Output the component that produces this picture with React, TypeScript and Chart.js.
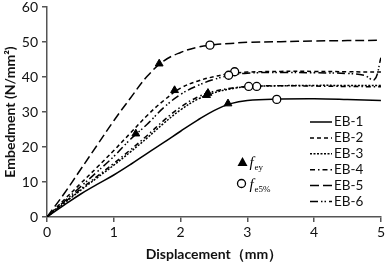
import React, { useEffect, useRef } from 'react';
import { Chart, registerables } from 'chart.js';

Chart.register(...registerables);

// ---- data ----
const disp = [0, 0.25, 0.5, 0.75, 1, 1.25, 1.5, 1.75, 2, 2.25, 2.5, 2.75, 3, 3.5, 4, 4.5, 5];
const eb1 = [0, 3.3, 6.5, 9.3, 12, 15, 18.2, 21.3, 24.5, 27.6, 30.4, 32.4, 33.3, 33.7, 33.8, 33.6, 33.3];
const eb2 = [0, 4.8, 9.5, 14.2, 19, 24, 29, 33.3, 36.8, 38.8, 40.1, 41, 41.4, 41.6, 41.6, 41.5, 41.4];
const eb3 = [0, 3.8, 7.6, 11.2, 14.8, 18.6, 22.6, 26.8, 30.6, 33.6, 35.5, 36.6, 37.2, 37.5, 37.6, 37.6, 37.6];
const eb4 = [0, 4, 7.9, 11.6, 15.3, 19.2, 23.3, 27.6, 31.4, 34.2, 35.9, 36.8, 37.3, 37.5, 37.4, 37.3, 37.2];
const eb5 = [0, 6.5, 13.5, 20.5, 27.5, 34, 40.2, 44.6, 47, 48.5, 49.2, 49.6, 49.9, 50.1, 50.3, 50.4, 50.5];
const disp6 = [0, 0.25, 0.5, 0.75, 1, 1.25, 1.5, 1.75, 2, 2.25, 2.5, 2.75, 3, 3.5, 4, 4.5, 4.75, 4.9, 5];
const eb6 = [0, 4.3, 8.6, 12.9, 17.3, 22.2, 26.5, 31.3, 35, 37.5, 39.3, 40.5, 41.1, 41.3, 41.2, 41, 40.5, 39.2, 45.5];

const seriesNames = ['EB-1', 'EB-2', 'EB-3', 'EB-4', 'EB-5', 'EB-6'];

// f_ey (triangles) and f_e5% (circles), one per specimen EB-1..EB-6
const feyX = [2.71, 1.91, 2.39, 2.41, 1.68, 1.33];
const feyY = [32.4, 36.2, 34.8, 35.4, 43.8, 23.8];
const fe5X = [3.44, 2.81, 3.14, 3.02, 2.44, 2.72];
const fe5Y = [33.6, 41.5, 37.3, 37.3, 49.1, 40.5];

const xMin = 0, xMax = 5, xStep = 1;
const yMin = 0, yMax = 60, yStep = 10;

const dashes: number[][] = [
  [],
  [4, 3],
  [2, 1.5],
  [5, 3, 1.5, 3],
  [9, 4],
  [8, 3, 1.5, 2, 1.5, 3],
];

const FONT = 'Lato, "Noto Sans", sans-serif';

const legendPlugin = {
  id: 'customLegend',
  afterDraw(chart: any) {
    const { ctx, chartArea } = chart;
    const L = chartArea.left;
    const T = chartArea.top;
    ctx.save();
    const lx = L + 263;
    const ly = T + 115;
    seriesNames.forEach((name, i) => {
      const y = ly + i * 15.9;
      ctx.setLineDash(dashes[i]);
      ctx.lineWidth = 1.5;
      ctx.strokeStyle = '#000';
      ctx.beginPath();
      ctx.moveTo(lx, y);
      ctx.lineTo(lx + 22, y);
      ctx.stroke();
      ctx.setLineDash([]);
      ctx.font = '13.5px ' + FONT;
      ctx.fillStyle = '#111';
      ctx.textBaseline = 'middle';
      ctx.textAlign = 'left';
      ctx.fillText(name, lx + 24, y);
    });
    // marker legend
    const tx = L + 195.5, ty = T + 155;
    ctx.fillStyle = '#000';
    ctx.beginPath();
    ctx.moveTo(tx, ty - 5);
    ctx.lineTo(tx + 5, ty + 4);
    ctx.lineTo(tx - 5, ty + 4);
    ctx.closePath();
    ctx.fill();
    const cx = L + 194.5, cy = T + 176.5;
    ctx.beginPath();
    ctx.arc(cx, cy, 4, 0, Math.PI * 2);
    ctx.fillStyle = '#fff';
    ctx.fill();
    ctx.lineWidth = 1.3;
    ctx.strokeStyle = '#000';
    ctx.stroke();
    ctx.fillStyle = '#000';
    ctx.textBaseline = 'alphabetic';
    ctx.font = 'italic 15px "Liberation Serif", "DejaVu Serif", serif';
    ctx.fillText('f', tx + 7, ty + 5);
    ctx.font = '9px "Liberation Serif", "DejaVu Serif", serif';
    ctx.fillText('ey', tx + 12, ty + 8);
    ctx.font = 'italic 15px "Liberation Serif", "DejaVu Serif", serif';
    ctx.fillText('f', cx + 8, cy + 5);
    ctx.font = '9px "Liberation Serif", "DejaVu Serif", serif';
    ctx.fillText('e5%', cx + 13, cy + 8);
    ctx.restore();
  },
};

export default function App() {
  const ref = useRef<HTMLCanvasElement | null>(null);

  useEffect(() => {
    document.body.style.margin = '0';
    const canvas = ref.current;
    if (!canvas) return;

    const curves = [
      { x: disp, y: eb1 },
      { x: disp, y: eb2 },
      { x: disp, y: eb3 },
      { x: disp, y: eb4 },
      { x: disp, y: eb5 },
      { x: disp6, y: eb6 },
    ];

    const lineSets = curves.map((c, i) => ({
      type: 'line' as const,
      label: seriesNames[i],
      data: c.x.map((x, j) => ({ x, y: c.y[j] })),
      borderColor: '#000',
      borderWidth: 1.5,
      borderDash: dashes[i],
      pointRadius: 0,
      fill: false,
      tension: 0.4,
      order: 2,
    }));

    const feySet = {
      type: 'scatter' as const,
      label: 'fey',
      data: feyX.map((x, j) => ({ x, y: feyY[j] })),
      pointStyle: 'triangle',
      pointRadius: 4.5,
      backgroundColor: '#000',
      borderColor: '#000',
      borderWidth: 1,
      order: 0,
    };
    const fe5Set = {
      type: 'scatter' as const,
      label: 'fe5',
      data: fe5X.map((x, j) => ({ x, y: fe5Y[j] })),
      pointStyle: 'circle',
      pointRadius: 4,
      backgroundColor: '#fff',
      borderColor: '#000',
      borderWidth: 1.3,
      order: 0,
    };

    const chart = new Chart(canvas, {
      type: 'line',
      data: { datasets: [...lineSets, feySet, fe5Set] as any },
      options: {
        animation: false,
        responsive: false,
        maintainAspectRatio: false,
        layout: { padding: { top: 0, right: 4, left: 0, bottom: 0 } },
        plugins: { legend: { display: false }, tooltip: { enabled: false } },
        scales: {
          x: {
            type: 'linear',
            min: xMin,
            max: xMax,
            ticks: { stepSize: xStep, color: '#111', font: { family: FONT, size: 14 }, padding: 2, maxRotation: 0 },
            grid: { drawOnChartArea: false, drawTicks: true, tickLength: 5, color: '#555', lineWidth: 1.5 },
            border: { display: true, color: '#555', width: 1.5 },
            title: {
              display: true,
              text: 'Displacement（mm）',
              color: '#111',
              font: { family: FONT, size: 14, weight: 'bold' },
              padding: { top: 0, bottom: -1 },
            },
            afterFit: (s: any) => { s.height = 45; },
          },
          y: {
            type: 'linear',
            min: yMin,
            max: yMax,
            ticks: { stepSize: yStep, color: '#111', font: { family: FONT, size: 14 }, padding: 4 },
            grid: { drawOnChartArea: false, drawTicks: true, tickLength: 5, color: '#555', lineWidth: 1.5 },
            border: { display: true, color: '#555', width: 1.5 },
            title: {
              display: true,
              text: 'Embedment (N/mm²)',
              color: '#111',
              font: { family: FONT, size: 14, weight: 'bold' },
              padding: { top: 2, bottom: 0 },
            },
            afterFit: (s: any) => { s.width = 47; s.paddingTop = 7; s.paddingBottom = 0; },
          },
        },
      } as any,
      plugins: [legendPlugin],
    });
    return () => chart.destroy();
  }, []);

  return (
    <div style={{ position: 'fixed', left: 0, top: 0, width: 387, height: 262, background: '#fff' }}>
      <canvas ref={ref} width={387} height={262} style={{ width: 387, height: 262 }} />
    </div>
  );
}
